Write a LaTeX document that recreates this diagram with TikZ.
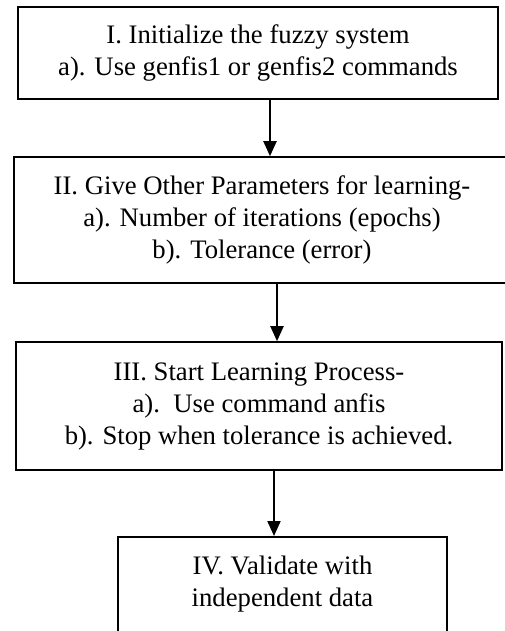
\documentclass[tikz,border=0pt]{standalone}
\usepackage{fontspec}
\setmainfont{Liberation Serif}
\usetikzlibrary{arrows.meta}
\tikzset{
  stage/.style={draw, line width=1.6pt, align=center, inner sep=0pt,
    font=\fontsize{26.7}{32}\selectfont},
  flow/.style={line width=2pt, -{Triangle[length=15pt,width=13pt]}}
}

\begin{document}
\begin{tikzpicture}[x=1pt, y=-1pt]
						\useasboundingbox (0,0) rectangle (504,631);
						
						\node[stage, minimum width=480pt, minimum height=92pt] (init) at (258,53)
							{I. Initialize the fuzzy system\\a). Use genfis1 or genfis2 commands};
						\node[stage, minimum width=496pt, minimum height=126pt] (param) at (262,220)
							{II. Give Other Parameters for learning-\\a). Number of iterations (epochs)\\b). Tolerance (error)};
						\node[stage, minimum width=486pt, minimum height=128pt] (learn) at (259,406)
							{III. Start Learning Process-\\a).\ \ Use command anfis\\b). Stop when tolerance is achieved.};
						\node[stage, minimum width=329pt, inner ysep=19pt, text depth=110pt, anchor=north] (valid) at (282.5,536)
							{IV. Validate with\\independent data};
						
						\draw[flow] ([xshift=12pt]init.south) -- ([xshift=8pt]param.north);
						\draw[flow] ([xshift=15pt]param.south) -- ([xshift=18pt]learn.north);
						\draw[flow] ([xshift=15pt]learn.south) -- ([xshift=-8.5pt]valid.north);
					\end{tikzpicture}
\end{document}
